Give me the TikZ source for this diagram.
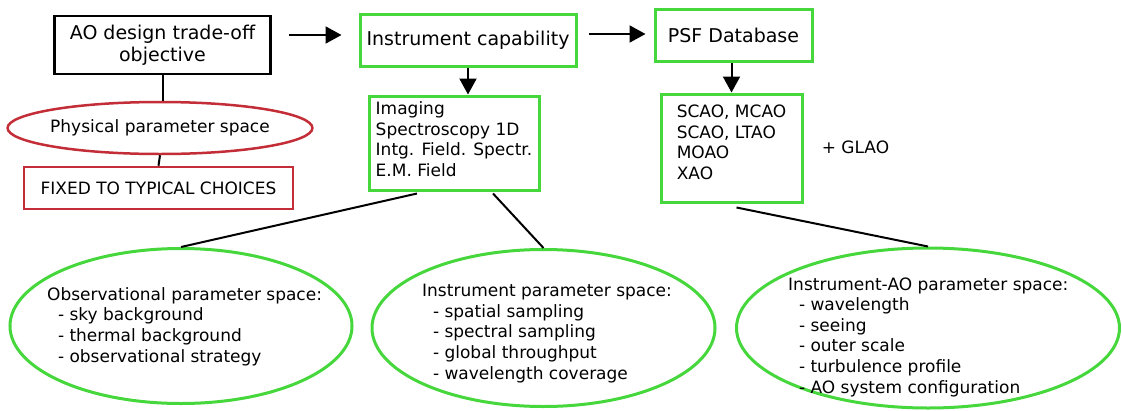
\documentclass[tikz,border=0pt]{standalone}
\usepackage{fontspec}
\setmainfont{DejaVu Sans}
\usetikzlibrary{shapes.geometric,arrows.meta}

\definecolor{boxgreen}{RGB}{70,215,60}
\definecolor{boxred}{RGB}{195,45,55}

\tikzset{
  bigtext/.style={font=\fontsize{19}{22}\selectfont},
  smalltext/.style={font=\fontsize{17}{20.6}\selectfont},
  gbox/.style={draw=boxgreen, line width=3pt, inner sep=0pt},
  rbox/.style={draw=boxred, line width=2.5pt, inner sep=0pt},
  kbox/.style={draw=black, line width=2.5pt, inner sep=0pt},
  garea/.style={ellipse, draw=boxgreen, line width=3pt, inner sep=0pt},
  listtext/.style={smalltext, align=left, anchor=base west, inner sep=0pt},
  link/.style={draw=black, line width=2pt},
  flow/.style={link, -{Triangle[length=16pt,width=17pt]}},
}

\begin{document}
\begin{tikzpicture}[x=1pt, y=-1pt]
\useasboundingbox (0,0) rectangle (1122,410);

% top row
\node[kbox, bigtext, align=center, minimum width=216, minimum height=58] (ao) at (162.5,45) {AO design trade-off\\objective};
\node[gbox, bigtext, minimum width=216, minimum height=52] (inst) at (468,40) {Instrument capability};
\node[gbox, bigtext, minimum width=157, minimum height=52] (psf) at (733.5,35.5) {PSF Database};

% second row
\node[gbox, smalltext, align=left, minimum width=170, minimum height=94, text depth=8] (img) at (454,143)
  {Imaging\\Spectroscopy 1D\\Intg. Field. Spectr.\\E.M. Field};
\node[gbox, smalltext, align=left, minimum width=141, minimum height=108, text depth=12] (scao) at (731.5,148)
  {SCAO, MCAO\\SCAO, LTAO\\MOAO\\XAO};
\node[smalltext] (glao) at (855.5,147) {+ GLAO};

% left column
\node[ellipse, rbox, smalltext, inner xsep=-2pt, minimum width=304, minimum height=52] (phys) at (160,128) {Physical parameter space};
\node[rbox, smalltext, minimum width=269, minimum height=42] (fixed) at (158.5,188) {FIXED TO TYPICAL CHOICES};

% parameter spaces (text anchored on last line)
\node[garea, minimum width=342, minimum height=155] (obs) at (181,326) {};
\node[listtext] (obstxt) at (47,362)
  {Observational parameter space:\\\ \ - sky background\\\ \ - thermal background\\\ \ - observational strategy};
\node[garea, minimum width=343, minimum height=157] (ins) at (543.5,328) {};
\node[listtext] (instxt) at (422,379)
  {Instrument parameter space:\\\ \ - spatial sampling\\\ \ - spectral sampling\\\ \ - global throughput\\\ \ - wavelength coverage};
\node[garea, minimum width=383, minimum height=160] (aop) at (928,328) {};
\node[listtext] (aoptxt) at (788,393)
  {Instrument-AO parameter space:\\\ \ - wavelength\\\ \ - seeing\\\ \ - outer scale\\\ \ - turbulence profile\\\ \ - AO system configuration};

% arrows
\draw[flow, shorten <=17pt, shorten >=17pt] ([yshift=10pt]ao.east) -- ([yshift=10pt]ao.east -| inst.west);
\draw[flow, shorten <=11pt, shorten >=8pt] ([yshift=6pt]inst.east) -- ([yshift=6pt]inst.east -| psf.west);
\draw[flow] (inst.south) -- (inst.south |- img.north);
\draw[flow] ([xshift=-2pt]psf.south) -- ([xshift=-2pt]psf.south |- scao.north);

% plain links
\draw[link] (ao.south) -- (ao.south |- phys.north);
\draw[link] (phys.south) -- (fixed.north);
\draw[link] ([xshift=-37pt, yshift=-2pt]img.south) -- (obs.north);
\draw[link] ([xshift=39pt, yshift=-2pt]img.south) -- (ins.north);
\draw[link] ([xshift=5pt, yshift=-4pt]scao.south) -- (aop.north);
\end{tikzpicture}
\end{document}
